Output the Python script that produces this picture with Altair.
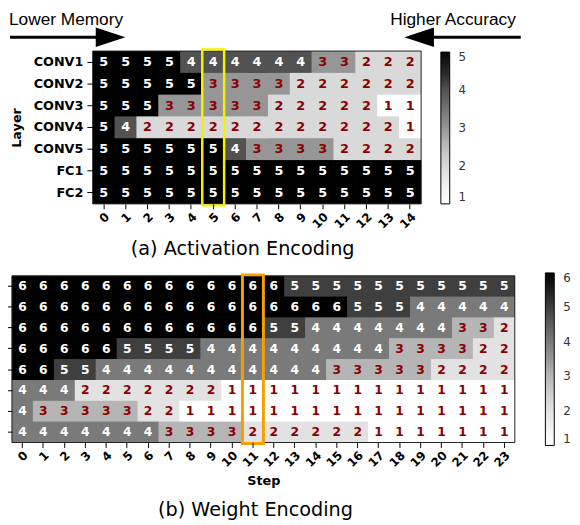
import altair as alt
import pandas as pd

# ---------------- data ----------------
STEPS_A = [0, 1, 2, 3, 4, 5, 6, 7, 8, 9, 10, 11, 12, 13, 14]
LAYERS_A = ["CONV1", "CONV2", "CONV3", "CONV4", "CONV5", "FC1", "FC2"]
CONV1 = [5, 5, 5, 5, 4, 4, 4, 4, 4, 4, 3, 3, 2, 2, 2]
CONV2 = [5, 5, 5, 5, 5, 3, 3, 3, 3, 2, 2, 2, 2, 2, 2]
CONV3 = [5, 5, 5, 3, 3, 3, 3, 3, 2, 2, 2, 2, 2, 1, 1]
CONV4 = [5, 4, 2, 2, 2, 2, 2, 2, 2, 2, 2, 2, 2, 2, 1]
CONV5 = [5, 5, 5, 5, 5, 5, 4, 3, 3, 3, 3, 2, 2, 2, 2]
FC1 = [5, 5, 5, 5, 5, 5, 5, 5, 5, 5, 5, 5, 5, 5, 5]
FC2 = [5, 5, 5, 5, 5, 5, 5, 5, 5, 5, 5, 5, 5, 5, 5]
ACT_ROWS = [CONV1, CONV2, CONV3, CONV4, CONV5, FC1, FC2]

STEPS_B = [0, 1, 2, 3, 4, 5, 6, 7, 8, 9, 10, 11, 12, 13, 14, 15, 16, 17, 18, 19, 20, 21, 22, 23]
ROWS_B = ["L1", "L2", "L3", "L4", "L5", "L6", "L7", "L8"]
W1 = [6, 6, 6, 6, 6, 6, 6, 6, 6, 6, 6, 6, 6, 5, 5, 5, 5, 5, 5, 5, 5, 5, 5, 5]
W2 = [6, 6, 6, 6, 6, 6, 6, 6, 6, 6, 6, 6, 6, 6, 6, 6, 5, 5, 5, 4, 4, 4, 4, 4]
W3 = [6, 6, 6, 6, 6, 6, 6, 6, 6, 6, 6, 6, 5, 5, 4, 4, 4, 4, 4, 4, 4, 3, 3, 2]
W4 = [6, 6, 6, 6, 6, 5, 5, 5, 5, 4, 4, 4, 4, 4, 4, 4, 4, 4, 3, 3, 3, 3, 2, 2]
W5 = [6, 6, 5, 5, 4, 4, 4, 4, 4, 4, 4, 4, 4, 4, 4, 3, 3, 3, 3, 3, 2, 2, 2, 2]
W6 = [4, 4, 4, 2, 2, 2, 2, 2, 2, 2, 1, 1, 1, 1, 1, 1, 1, 1, 1, 1, 1, 1, 1, 1]
W7 = [4, 3, 3, 3, 3, 3, 2, 2, 1, 1, 1, 1, 1, 1, 1, 1, 1, 1, 1, 1, 1, 1, 1, 1]
W8 = [4, 4, 4, 4, 4, 4, 4, 3, 3, 3, 3, 2, 2, 2, 2, 2, 2, 1, 1, 1, 1, 1, 1, 1]
WEIGHT_ROWS = [W1, W2, W3, W4, W5, W6, W7, W8]

HIGHLIGHT_A = 5
HIGHLIGHT_B = 11
LEGEND_A = [1, 2, 3, 4, 5]
LEGEND_B = [1, 2, 3, 4, 5, 6]

# matplotlib "Greys" colour stops (white -> black)
GREYS = ["#ffffff", "#f0f0f0", "#d9d9d9", "#bdbdbd", "#969696",
         "#737373", "#525252", "#252525", "#000000"]

# ---------------- layout (pixels) ----------------
W, H = 572, 517
A_X = [86, 419]
A_Y = [40, 195]
B_X = [4, 514]
B_Y = [268, 437]
RED = "#8b0000"
FONT = "DejaVu Sans"

df_a = pd.DataFrame(
    [{"step": s, "layer": lay, "v": row[i]} for lay, row in zip(LAYERS_A, ACT_ROWS) for i, s in enumerate(STEPS_A)]
)
df_b = pd.DataFrame(
    [{"step": s, "row": r, "v": row[i]} for r, row in zip(ROWS_B, WEIGHT_ROWS) for i, s in enumerate(STEPS_B)]
)
one = pd.DataFrame({"a": [0]})


def greys_scale(lo, hi):
    # two-value domain + multi-colour range -> Vega builds a piecewise sequential ramp
    return alt.Scale(domain=[lo, hi], range=GREYS, nice=False)


def x_axis(offset, title, fs):
    kw = dict(
        orient="bottom", offset=offset, labelAngle=-45, labelAlign="right", labelBaseline="top",
        labelPadding=2, labelFont=FONT, labelFontWeight="bold", labelFontSize=fs, labelColor="black",
        tickColor="black", tickSize=5, domain=False, grid=False,
    )
    if title:
        kw.update(titleFont=FONT, titleFontWeight="bold", titleFontSize=13, titleColor="black", titlePadding=6)
    return alt.Axis(**kw)


def legend(x, y, length, values):
    return alt.Legend(type="gradient", orient="none", legendX=x, legendY=y, direction="vertical",
                      gradientLength=length, gradientThickness=9, gradientStrokeColor="black",
                      gradientStrokeWidth=1, values=values, labelFont=FONT,
                      labelFontSize=12, labelColor="#333", labelOffset=9, labelBaseline="middle")


# ---------------- panel (a) ----------------
xa = alt.X("step:O", title=None, scale=alt.Scale(range=A_X, paddingInner=0, paddingOuter=0),
           axis=x_axis(A_Y[1] - H, False, 12))
ya = alt.Y("layer:N", sort=LAYERS_A, title="Layer",
           scale=alt.Scale(range=A_Y, paddingInner=0, paddingOuter=0),
           axis=alt.Axis(orient="left", offset=-A_X[0], labelFont=FONT, labelFontWeight="bold",
                         labelFontSize=13, labelColor="black", labelPadding=4, tickColor="black",
                         tickSize=6, domain=False, grid=False, titleFont=FONT, titleFontWeight="bold",
                         titleFontSize=13, titleColor="black", titlePadding=10))
color_a = alt.Color("v:Q", title=None, scale=greys_scale(1, 5), legend=legend(439, 41, 154, LEGEND_A))
rect_a = alt.Chart(df_a).mark_rect().encode(x=xa, y=ya, color=color_a)
# cells drawn again to hide anti-aliasing seams between neighbouring rects
rect_a2 = alt.Chart(df_a).mark_rect().encode(x=alt.X("step:O"), y=alt.Y("layer:N", sort=LAYERS_A), color=color_a)
rect_a3 = alt.Chart(df_a).mark_rect().encode(x=alt.X("step:O"), y=alt.Y("layer:N", sort=LAYERS_A), color=color_a)
txt_a = alt.Chart(df_a).mark_text(font=FONT, fontWeight="bold", fontSize=13).encode(
    x=alt.X("step:O"), y=alt.Y("layer:N", sort=LAYERS_A), text="v:Q",
    color=alt.when(alt.datum.v <= 3).then(alt.value(RED)).otherwise(alt.value("white")),
)
frame_a = alt.Chart(one).mark_rect(filled=False, stroke="#222", strokeWidth=1).encode(
    x=alt.value(A_X[0]), x2=alt.value(A_X[1]), y=alt.value(A_Y[0]), y2=alt.value(A_Y[1]))
box_a = alt.Chart(pd.DataFrame({"step": [HIGHLIGHT_A]})).mark_rect(
    filled=False, stroke="#f5f000", strokeWidth=2.5).encode(
    x=alt.X("step:O"), y=alt.value(A_Y[0] - 1.5), y2=alt.value(A_Y[1] + 1.5))
panel_a = alt.layer(rect_a, rect_a2, rect_a3, txt_a, frame_a, box_a)

# ---------------- panel (b) ----------------
xb = alt.X("step:O", title="Step", scale=alt.Scale(range=B_X, paddingInner=0, paddingOuter=0),
           axis=x_axis(B_Y[1] - H, True, 12))
yb = alt.Y("row:N", sort=ROWS_B, title=None,
           scale=alt.Scale(range=B_Y, paddingInner=0, paddingOuter=0),
           axis=alt.Axis(orient="left", offset=-B_X[0], labels=False, tickColor="black",
                         tickSize=5, domain=False, grid=False))
color_b = alt.Color("v:Q", title=None, scale=greys_scale(1, 6), legend=legend(545, 265, 175, LEGEND_B))
rect_b = alt.Chart(df_b).mark_rect().encode(x=xb, y=yb, color=color_b)
rect_b2 = alt.Chart(df_b).mark_rect().encode(x=alt.X("step:O"), y=alt.Y("row:N", sort=ROWS_B), color=color_b)
rect_b3 = alt.Chart(df_b).mark_rect().encode(x=alt.X("step:O"), y=alt.Y("row:N", sort=ROWS_B), color=color_b)
txt_b = alt.Chart(df_b).mark_text(font=FONT, fontWeight="bold", fontSize=12.5).encode(
    x=alt.X("step:O"), y=alt.Y("row:N", sort=ROWS_B), text="v:Q",
    color=alt.when(alt.datum.v <= 3).then(alt.value(RED)).otherwise(alt.value("white")),
)
frame_b = alt.Chart(one).mark_rect(filled=False, stroke="#222", strokeWidth=1).encode(
    x=alt.value(B_X[0]), x2=alt.value(B_X[1]), y=alt.value(B_Y[0]), y2=alt.value(B_Y[1]))
box_b = alt.Chart(pd.DataFrame({"step": [HIGHLIGHT_B]})).mark_rect(
    filled=False, stroke="#f59f00", strokeWidth=3).encode(
    x=alt.X("step:O"), y=alt.value(B_Y[0] - 1), y2=alt.value(B_Y[1] + 1))
panel_b = alt.layer(rect_b, rect_b2, rect_b3, txt_b, frame_b, box_b)

# ---------------- annotations ----------------
def label(text, x, y, size, font, align="left"):
    return alt.Chart(one).mark_text(text=text, font=font, fontSize=size, align=align,
                                    baseline="alphabetic", color="black").encode(
        x=alt.value(x), y=alt.value(y))

lower = label("Lower Memory", 1, 14, 17.5, "Liberation Sans")
higher = label("Higher Accuracy", 515, 14, 17.5, "Liberation Sans", align="right")
title_a = label("(a) Activation Encoding", 238, 247, 19.5, FONT, align="center")
title_b = label("(b) Weight Encoding", 251, 512, 19.5, FONT, align="center")

shaft_l = alt.Chart(one).mark_rule(strokeWidth=3, color="black").encode(
    x=alt.value(2), x2=alt.value(92), y=alt.value(26))
head_l = alt.Chart(one).mark_point(shape="M-1,-0.667L1,0L-1,0.667Z", size=900, filled=True,
                                   color="black", opacity=1).encode(x=alt.value(104), y=alt.value(26))
shaft_r = alt.Chart(one).mark_rule(strokeWidth=3, color="black").encode(
    x=alt.value(428), x2=alt.value(520), y=alt.value(26))
head_r = alt.Chart(one).mark_point(shape="M1,-0.667L-1,0L1,0.667Z", size=900, filled=True,
                                   color="black", opacity=1).encode(x=alt.value(417), y=alt.value(26))

chart = alt.layer(
    panel_a, panel_b, lower, higher, title_a, title_b, shaft_l, head_l, shaft_r, head_r
).resolve_scale(
    x="independent", y="independent", color="independent"
).properties(
    width=W, height=H, padding=0, autosize=alt.AutoSizeParams(type="none")
).configure_view(strokeWidth=0)

chart.save("out.html", embed_options={"renderer": "svg", "actions": False})
